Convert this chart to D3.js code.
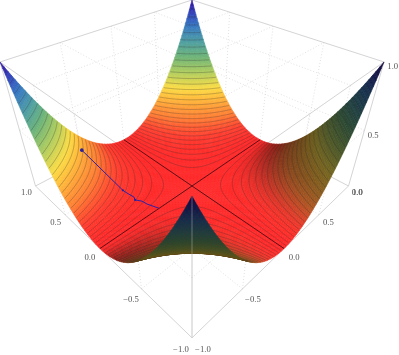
<!DOCTYPE html>
<html><head><meta charset="utf-8">
<script src="https://cdn.jsdelivr.net/npm/d3@7"></script>
<style>html,body{margin:0;padding:0;background:#fff}svg{display:block;will-change:transform}text{font-family:"Liberation Serif",serif;font-size:8.7px;fill:#555;text-anchor:middle;dominant-baseline:central}</style>
</head><body><svg id="c" width="399" height="355"></svg>
<script>
// Tick labels and grid positions
const xTicks = [-1, -0.5, 0, 0.5, 1];
const yTicks = [-1, -0.5, 0, 0.5, 1];
const zTicks = [0, 0.5, 1];
const gridValues = [-0.5, 0, 0.5];
const zGridValues = [0.5];
// Colour ramp: height -> colour, sampled from the back wing
const colourStops = [0, 0.05, 0.13, 0.27, 0.33, 0.45, 0.57, 0.68, 0.81, 0.92, 1];
const colourValues = ["#ff2828","#ff3c2d","#ff7d32","#ffc33c","#fadc46","#afcd5f","#6eb478","#50a0a0","#3778c3","#323cb9","#3c0f96"];
// Descent path drawn on the surface, (x, y)
const pathX = [-0.58, -0.50, -0.49, -0.47, -0.484, -0.447, -0.437, -0.395];
const pathY = [0.82, 0.36, 0.316, 0.245, 0.213, 0.164, 0.11, 0.0];
const pathMarkers = [0, 1, 4];

// The plotted object is the analytic surface z = x^2 y^2 (checked against edge and
// ridge positions in the picture); contours are evenly spaced in |xy|.
const surface = (x, y) => x * x * y * y;
const contourCount = 30;

// perspective camera fitted to the eight corners of the box
const cam = {cx:192, f:156.5, c:186, g:50.5, h:-135.5, p:-0.3, q:-0.185};
const proj = (x, y, z) => {
  const s = (x - y) / 2, t = -(x + y) / 2, w = 1 + cam.p * t + cam.q * z;
  return [cam.cx + cam.f * s / w, (cam.c + cam.g * t + cam.h * z) / w];
};
const svg = d3.select("#c");
const line = d3.line();
const colour = d3.scaleLinear().domain(colourStops).range(colourValues).interpolate(d3.interpolateRgb);

// --- face grids (behind the surface)
const gGrid = svg.append("g").attr("fill","none").attr("stroke","#cccccc").attr("stroke-width",0.6).attr("stroke-dasharray","1 2");
const seg = (a, b) => { const n = 12, pts = []; for (let i=0;i<=n;i++){const u=i/n;pts.push(proj(a[0]+(b[0]-a[0])*u,a[1]+(b[1]-a[1])*u,a[2]+(b[2]-a[2])*u));} return pts; };
const gridSegs = [];
for (const v of gridValues) {
  for (const z of [0,1]) { gridSegs.push([[v,-1,z],[v,1,z]]); gridSegs.push([[-1,v,z],[1,v,z]]); }
  for (const e of [-1,1]) { gridSegs.push([[v,e,0],[v,e,1]]); gridSegs.push([[e,v,0],[e,v,1]]); }
}
for (const z of zGridValues) for (const e of [-1,1]) { gridSegs.push([[-1,e,z],[1,e,z]]); gridSegs.push([[e,-1,z],[e,1,z]]); }
gGrid.selectAll("path").data(gridSegs).join("path").attr("d", d => line(seg(d[0], d[1])));

// --- box
const boxEdges = [];
for (const a of [-1,1]) for (const b of [-1,1]) {
  boxEdges.push([[a,b,0],[a,b,1]]);
  boxEdges.push([[a,-1,b<0?0:1],[a,1,b<0?0:1]]);
  boxEdges.push([[-1,a,b<0?0:1],[1,a,b<0?0:1]]);
}
svg.append("g").attr("fill","none").attr("stroke","#cfcfcf").attr("stroke-width",0.9)
  .selectAll("path").data(boxEdges).join("path").attr("d", d => line([proj(...d[0]),proj(...d[1])]));

// --- surface cells
const M = 110;
const gx = d3.scaleLinear().domain([0,M]).range([-1,1]);
const ambient = 0.38;
// the light falls from the -y side: only faces sloping away from it darken
const shade = (x,y) => {
  const zy = 2*x*x*y;
  if (zy >= 0) return 1;
  const r = zy/0.27;
  return ambient + (1-ambient)/(1+r*r);
};
const centreArea=d3.polygonArea([proj(-.01,-.01,0),proj(.01,-.01,0),proj(.01,.01,0),proj(-.01,.01,0)]);
const upperCells=[], lowerCells=[];
for (let i=0;i<M;i++) for (let j=0;j<M;j++) {
  const x0=gx(i),x1=gx(i+1),y0=gx(j),y1=gx(j+1);
  const q=[[x0,y0],[x1,y0],[x1,y1],[x0,y1]].map(p=>proj(p[0],p[1],surface(p[0],p[1])));
  const isUpper=d3.polygonArea(q)*centreArea>0;
  const xc=(x0+x1)/2,yc=(y0+y1)/2,zc=surface(xc,yc);
  const c=d3.rgb(colour(zc)), b=isUpper?shade(xc,yc):ambient;
  const fill=d3.rgb(c.r*b,c.g*b,c.b*b).formatHex();
  const t=-(xc+yc)/2, w=1+cam.p*t+cam.q*zc;
  (isUpper?upperCells:lowerCells).push({q,fill,w});
}
const drawCells = (g,cells)=>g.selectAll("path").data(cells.sort((a,b)=>b.w-a.w)).join("path")
  .attr("d",d=>line(d.q)+"Z").attr("fill",d=>d.fill).attr("stroke",d=>d.fill).attr("stroke-width",0.6);
drawCells(svg.append("g"),upperCells);

// --- contour lines
const N=360;
const values=new Float64Array(N*N);
const ci=d3.scaleLinear().domain([0.5,N-0.5]).range([-1,1]);
for(let j=0;j<N;j++)for(let i=0;i<N;i++)values[j*N+i]=surface(ci(i+.5),ci(j+.5));
const levels=d3.range(1,contourCount).map(k=>(k/contourCount)*(k/contourCount));
const contours=d3.contours().size([N,N]).thresholds(levels)(values);
const onEdge=p=>p[0]<=0.6||p[0]>=N-0.6||p[1]<=0.6||p[1]>=N-0.6;
const cd=contours.map(c=>{
  let out="";
  for(const poly of c.coordinates)for(const ring of poly){
    let run=[];
    const flush=()=>{if(run.length>1)out+=line(run);run=[];};
    for(const p of ring){
      if(onEdge(p)){flush();continue;}
      const x=ci(p[0]),y=ci(p[1]);
      run.push(proj(x,y,surface(x,y)));
    }
    flush();
  }
  return out;
});
svg.append("g").attr("fill","none").attr("stroke","#303030").attr("stroke-opacity",0.42).attr("stroke-width",0.7)
  .selectAll("path").data(cd).join("path").attr("d",d=>d);

// --- zero ridges
const ridgeSegs=[[[-1,0,0],[1,0,0]],[[0,-1,0],[0,1,0]]];
svg.append("g").attr("fill","none").attr("stroke","#4a0c14").attr("stroke-width",0.9)
  .selectAll("path").data(ridgeSegs).join("path").attr("d",d=>line([proj(...d[0]),proj(...d[1])]));

// --- descent path
const pathPts=pathX.map((x,i)=>proj(x,pathY[i],surface(x,pathY[i])));
svg.append("path").attr("d",line(pathPts)).attr("fill","none").attr("stroke","#2e1fa8").attr("stroke-width",1);
svg.append("g").selectAll("circle").data(pathMarkers).join("circle")
  .attr("cx",i=>pathPts[i][0]).attr("cy",i=>pathPts[i][1]).attr("r",(d,i)=>i==0?1.8:1.1).attr("fill","#2a1f9c");

// --- underside of the near wing on top
drawCells(svg.append("g"),lowerCells);

// --- near vertical edge
svg.append("path").attr("d",line([proj(-1,-1,0),proj(-1,-1,1)])).attr("stroke","#cfcfcf").attr("stroke-opacity",0.5).attr("stroke-width",0.8).attr("fill","none");

// --- tick labels
const fmt=v=>(v<0?"\u2212":"")+Math.abs(v).toFixed(1);
const gT=svg.append("g");
gT.append("g").selectAll("text").data(yTicks).join("text")
  .attr("x",v=>proj(-1,v,0)[0]-9-(1-v)*1).attr("y",v=>proj(-1,v,0)[1]+6+(1-v)*2.5).text(fmt);
gT.append("g").selectAll("text").data(xTicks).join("text")
  .attr("x",v=>proj(v,-1,0)[0]+9+(1-v)*1).attr("y",v=>proj(v,-1,0)[1]+6+(1-v)*2.5).text(fmt);
gT.append("g").selectAll("text").data(zTicks).join("text")
  .attr("x",v=>proj(1,-1,v)[0]+8.7).attr("y",v=>proj(1,-1,v)[1]+5.5-v*1.5).text(fmt);
</script></body></html>
